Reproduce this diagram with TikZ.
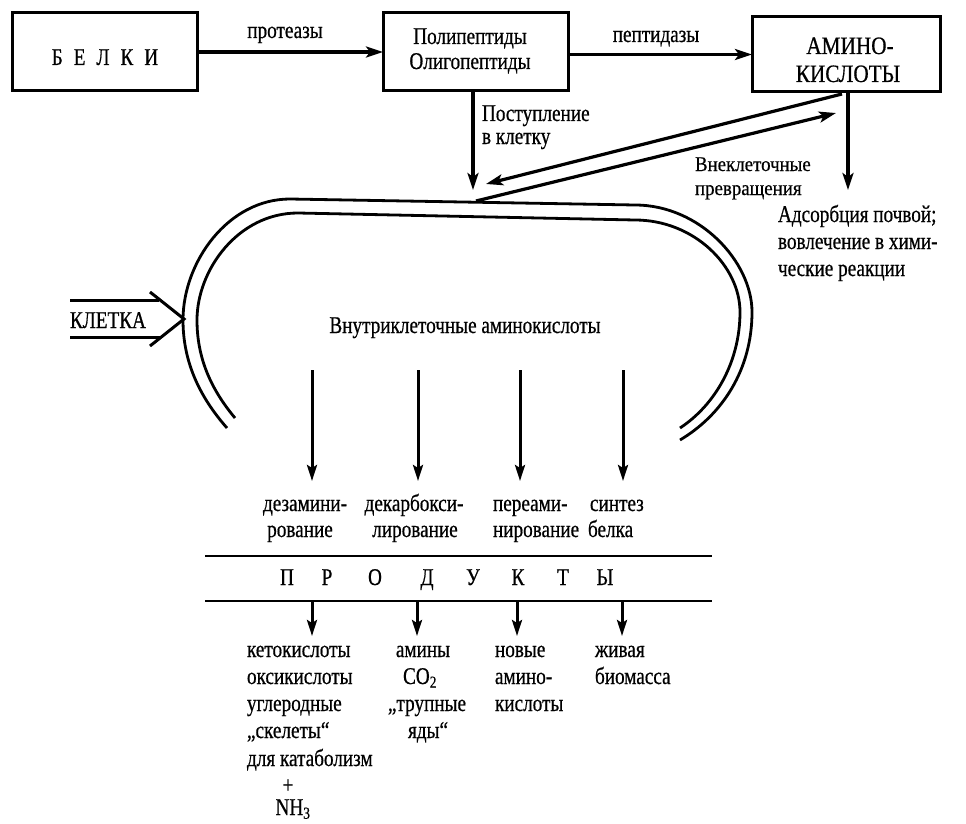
\documentclass[tikz,border=0pt]{standalone}
\usepackage{fontspec}
\setmainfont{Liberation Serif}[FakeStretch=0.8,FakeBold=0.6]
\newfontfamily\capsfont{Liberation Serif}[FakeStretch=0.85,FakeBold=0.6]
\newfontfamily\smallfont{Liberation Serif}[FakeStretch=0.9,FakeBold=0.5]
\usetikzlibrary{arrows.meta}
\begin{document}
\begin{tikzpicture}[x=1pt,y=-1pt,
  every node/.style={inner sep=0pt, outer sep=0pt, font=\fontsize{24}{28}\selectfont},
  box/.style={draw, line width=3pt},
  arr/.style={line width=3.2pt, -{Stealth[length=17pt,width=11pt,inset=4pt]}},
  varr/.style={line width=3pt, -{Stealth[length=16pt,width=10pt,inset=3pt]}},
  cell/.style={line width=2.8pt},
  rule/.style={line width=2.6pt},
  lbl/.style={anchor=base},
  lblw/.style={anchor=base west},
]
\useasboundingbox (0,0) rectangle (966,824);

% boxes
\node[box, minimum width=185pt, minimum height=78pt] (belki) at (104.5,52) {};
\node[box, minimum width=185pt, minimum height=78pt] (poly) at (475.5,52) {};
\node[box, minimum width=188pt, minimum height=75pt] (amino) at (846,54.5) {};

\node[lbl] (tbelki) at (105,65) {Б\hspace{11pt}Е\hspace{11pt}Л\hspace{11pt}К\hspace{11pt}И};
\node[lbl] (tpoly1) at (470,44) {Полипептиды};
\node[lbl] (tpoly2) at (470,69) {Олигопептиды};
\node[lbl, font=\capsfont\fontsize{25}{28}\selectfont] (tam1) at (850,54) {АМИНО-};
\node[lbl, font=\capsfont\fontsize{25}{28}\selectfont] (tam2) at (848,82) {КИСЛОТЫ};

% top arrows
\draw[arr] (belki.east) -- (poly.west);
\node[lbl] (lprot) at (285,38) {протеазы};
\draw[arr] (poly.east |- amino.west) -- (amino.west);
\node[lbl] (lpept) at (656,42) {пептидазы};

\coordinate (pin) at (473,190);
\draw[arr] (poly.south -| pin) -- (pin);
\node[lblw] (lpost1) at (482,121) {Поступление};
\node[lblw] (lpost2) at (482,144) {в клетку};

\coordinate (adsin) at (848,190);
\draw[arr] (amino.south -| adsin) -- (adsin);
\node[lblw] (lads1) at (778,222) {Адсорбция почвой;};
\node[lblw] (lads2) at (778,249) {вовлечение в хими-};
\node[lblw] (lads3) at (778,276) {ческие реакции};

% exchange arrows
\coordinate (ax1) at (842,94);
\coordinate (cx1) at (486,184);
\draw[arr] (ax1) -- (cx1);
\coordinate (cx2) at (476,201);
\coordinate (ax2) at (836,113);
\draw[arr] (cx2) -- (ax2);
\node[lblw, font=\smallfont\fontsize{21}{23}\selectfont] (lvne1) at (695,171) {Внеклеточные};
\node[lblw, font=\smallfont\fontsize{21}{23}\selectfont] (lvne2) at (695,195) {превращения};

% cell membrane
\draw[cell] (227,428) .. controls (198,395) and (183,360) .. (183,320)
  .. controls (183,262) and (228,199) .. (290,199) -- (635,205)
  .. controls (700,205) and (752,262) .. (752,312)
  .. controls (752,370) and (722,415) .. (680,440);
\draw[cell] (235,418) .. controls (210,388) and (197,357) .. (197,320)
  .. controls (197,270) and (238,213) .. (298,213) -- (635,220)
  .. controls (694,220) and (740,266) .. (740,312)
  .. controls (740,362) and (715,405) .. (680,428);

% KLETKA arrow
\coordinate (ktip) at (184,319);
\coordinate (kt1) at (70,300);
\coordinate (kt2) at (159,300);
\coordinate (kb1) at (70,337);
\coordinate (kb2) at (160,337);
\coordinate (kba) at (150,292);
\coordinate (kbb) at (150,346);
\draw[line width=3pt] (kt1) -- (kt2);
\draw[line width=3pt] (kb1) -- (kb2);
\draw[line width=3pt, line join=miter] (kba) -- (ktip) -- (kbb);
\node[lblw] (klet) at (70,328) {КЛЕТКА};

\node[lbl] (intra) at (465,333) {Внутриклеточные аминокислоты};

% process arrows
\foreach \x [count=\i] in {312,418,520,623} {
  \coordinate (ps\i) at (\x,370);
  \coordinate (pe\i) at (\x,481);
  \draw[varr] (ps\i) -- (pe\i);
}
\node[lbl] (p1a) at (305,511) {дезамини-};
\node[lbl] (p1b) at (300,537) {рование};
\node[lbl] (p2a) at (414,511) {декарбокси-};
\node[lbl] (p2b) at (415,537) {лирование};
\node[lblw] (p3a) at (493,511) {переами-};
\node[lblw] (p3b) at (493,537) {нирование};
\node[lblw] (p4a) at (590,511) {синтез};
\node[lblw] (p4b) at (588,537) {белка};

% products band
\coordinate (r1a) at (205,556);
\coordinate (r1b) at (712,556);
\coordinate (r2a) at (205,601);
\coordinate (r2b) at (712,601);
\draw[rule] (r1a) -- (r1b);
\draw[rule] (r2a) -- (r2b);
\foreach \l/\x [count=\i] in {П/287,Р/327,О/375,Д/427,У/473,К/518,Т/563,Ы/605}
  \node[lbl] (pr\i) at (\x,585) {\l};

% product arrows
\foreach \x [count=\i] in {312,417,517,622} {
  \coordinate (qs\i) at (\x,601);
  \coordinate (qe\i) at (\x,636);
  \draw[varr] (qs\i) -- (qe\i);
}

% products
\node[lblw] (c1a) at (247,657) {кетокислоты};
\node[lblw] (c1b) at (247,684) {оксикислоты};
\node[lblw] (c1c) at (247,711) {углеродные};
\node[lblw] (c1d) at (247,738) {„скелеты“};
\node[lblw] (c1e) at (247,766) {для катаболизм};
\node[lbl] (c1f) at (288,793) {+};
\node[lbl] (c1g) at (293,815) {NH\textsubscript{3}};

\node[lbl] (c2a) at (423,657) {амины};
\node[lbl] (c2b) at (420,684) {CO\textsubscript{2}};
\node[lbl] (c2c) at (427,711) {„трупные};
\node[lbl] (c2d) at (428,738) {яды“};

\node[lblw] (c3a) at (495,657) {новые};
\node[lblw] (c3b) at (495,684) {амино-};
\node[lblw] (c3c) at (495,711) {кислоты};

\node[lblw] (c4a) at (595,657) {живая};
\node[lblw] (c4b) at (595,684) {биомасса};
\end{tikzpicture}
\end{document}
